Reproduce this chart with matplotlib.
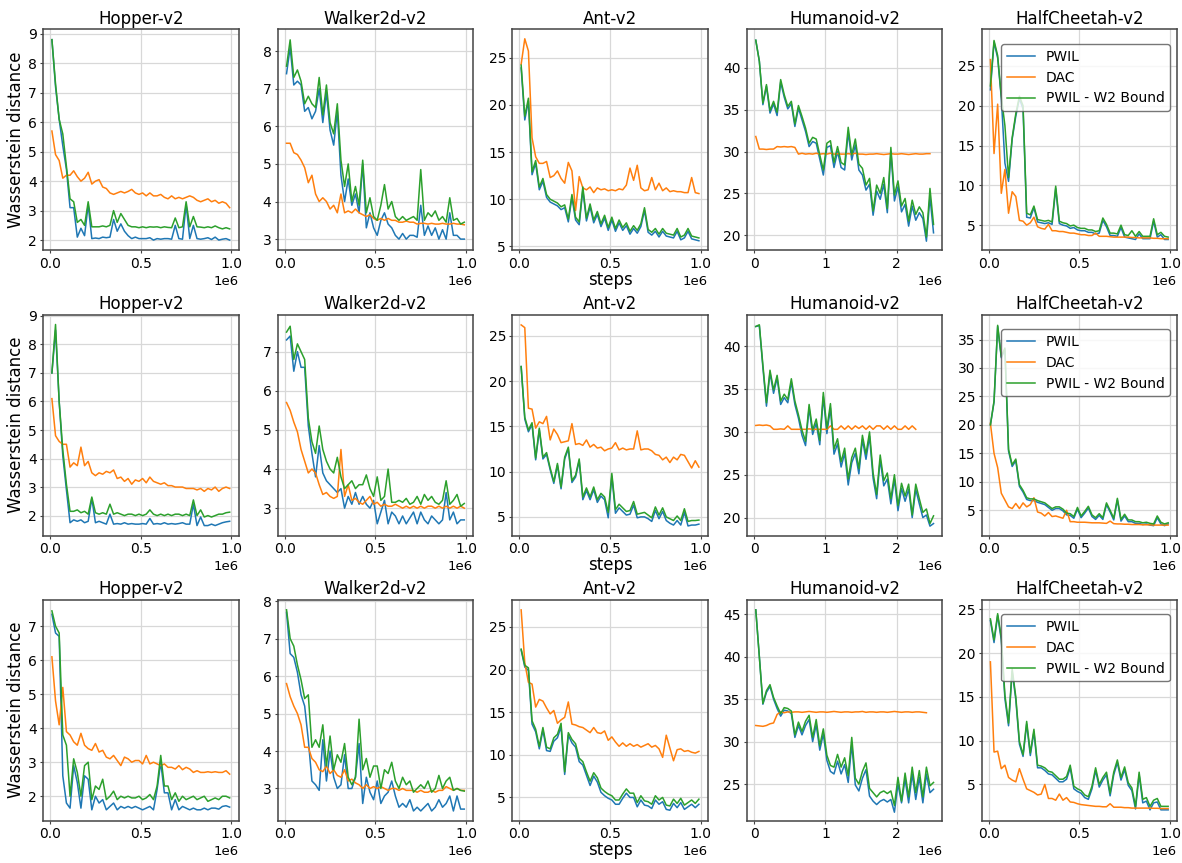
import numpy as np
import matplotlib
matplotlib.use("Agg")
import matplotlib.pyplot as plt

# x positions (training steps) of the logged evaluations
STEPS = 0.01e6 + 0.02e6 * np.arange(50)
HUM_STEPS = 0.02e6 + 0.05e6 * np.arange(51)

ENVS = ["Hopper-v2", "Walker2d-v2", "Ant-v2", "Humanoid-v2", "HalfCheetah-v2"]
LABELS = ["PWIL", "DAC", "PWIL - W2 Bound"]
COLORS = ["#1f77b4", "#ff7f0e", "#2ca02c"]

# ---- row 1 ----
HOPPER_1_PWIL = [8.8, 7.2, 6.1, 5.2, 4.4, 3.1, 3.1, 2.1, 2.4, 2.15, 3.2, 2.05, 2.07, 2.05, 2.1, 2.08, 2.1, 2.7, 2.3, 2.55,
                 2.3, 2.15, 2.05, 2.1, 2.05, 2.05, 2.05, 2.08, 2.0, 2.05, 2.03, 2.05, 2.05, 2.03, 2.5, 2.05, 2.03, 3.2, 2.05, 2.5,
                 2.05, 2.03, 2.05, 2.08, 2.02, 2.1, 2.0, 2.03, 2.05, 2.0]
HOPPER_1_DAC = [5.7, 4.9, 4.7, 4.1, 4.2, 4.2, 4.35, 4.15, 4.0, 4.1, 4.3, 3.9, 4.0, 4.05, 3.8, 3.75, 3.6, 3.55, 3.6, 3.65,
                3.6, 3.65, 3.72, 3.6, 3.55, 3.6, 3.5, 3.6, 3.5, 3.5, 3.55, 3.45, 3.4, 3.5, 3.4, 3.45, 3.4, 3.45, 3.5, 3.45,
                3.35, 3.3, 3.35, 3.4, 3.3, 3.35, 3.25, 3.3, 3.25, 3.1]
HOPPER_1_W2 = [8.8, 7.3, 6.1, 5.6, 4.5, 3.4, 3.3, 2.6, 2.7, 2.5, 3.3, 2.45, 2.45, 2.45, 2.48, 2.45, 2.5, 3.0, 2.6, 2.9,
               2.7, 2.5, 2.45, 2.45, 2.42, 2.45, 2.42, 2.45, 2.44, 2.45, 2.42, 2.45, 2.43, 2.42, 2.75, 2.42, 2.45, 3.3, 2.45, 2.8,
               2.45, 2.44, 2.42, 2.45, 2.42, 2.48, 2.42, 2.38, 2.42, 2.38]

WALKER_1_PWIL = [7.4, 8.1, 7.1, 7.2, 7.1, 6.4, 6.5, 6.2, 6.4, 7.0, 6.1, 6.9, 5.9, 5.5, 6.4, 4.7, 4.0, 4.6, 3.9, 4.2,
                 3.7, 5.0, 3.3, 3.7, 3.3, 3.1, 3.5, 3.7, 3.4, 3.3, 3.1, 3.0, 3.15, 3.0, 3.1, 3.1, 3.05, 3.9, 3.1, 3.35,
                 3.1, 3.3, 3.0, 3.25, 3.0, 3.7, 3.1, 3.1, 3.0, 3.0]
WALKER_1_DAC = [5.55, 5.55, 5.3, 5.25, 5.1, 4.9, 4.5, 4.7, 4.2, 4.0, 4.1, 4.0, 3.8, 3.9, 3.7, 4.2, 3.7, 3.75, 3.7, 3.8,
                3.7, 3.65, 3.6, 3.65, 3.55, 3.5, 3.55, 3.5, 3.55, 3.5, 3.5, 3.45, 3.45, 3.48, 3.45, 3.45, 3.4, 3.42, 3.42, 3.4,
                3.42, 3.4, 3.4, 3.42, 3.4, 3.4, 3.42, 3.4, 3.4, 3.38]
WALKER_1_W2 = [7.6, 8.3, 7.3, 7.5, 7.2, 6.6, 6.8, 6.6, 6.5, 7.3, 6.3, 7.1, 6.1, 5.8, 6.6, 5.1, 4.4, 5.0, 4.0, 4.4,
               3.9, 5.1, 3.7, 4.1, 3.6, 3.5, 3.9, 4.45, 3.8, 4.0, 3.6, 3.5, 3.6, 3.5, 3.55, 3.6, 3.5, 4.85, 3.5, 3.7,
               3.6, 3.75, 3.5, 3.6, 3.45, 4.1, 3.5, 3.55, 3.4, 3.45]

ANT_1_PWIL = [23.9, 18.4, 20.4, 12.6, 13.8, 11.0, 11.9, 10.2, 9.7, 9.5, 9.3, 8.9, 9.1, 7.6, 10.2, 7.8, 7.3, 11.0, 7.7, 9.2,
              7.5, 8.4, 7.1, 8.0, 6.7, 7.8, 6.6, 7.5, 6.7, 7.2, 6.3, 6.9, 6.4, 7.1, 8.8, 6.5, 6.2, 6.6, 6.0, 6.6,
              6.1, 6.0, 5.9, 6.6, 5.7, 5.9, 6.6, 5.8, 5.7, 5.6]
ANT_1_DAC = [24.3, 27.0, 25.7, 16.5, 14.5, 13.8, 13.8, 14.0, 12.3, 12.5, 13.0, 12.2, 11.7, 13.9, 13.0, 8.8, 12.4, 11.2, 11.0, 11.3,
             10.7, 11.2, 11.0, 11.1, 10.9, 11.0, 10.9, 11.1, 11.0, 11.5, 13.3, 12.0, 13.6, 11.2, 10.9, 11.0, 12.3, 11.0, 11.7, 10.9,
             11.2, 10.8, 10.9, 10.8, 10.8, 10.7, 10.7, 12.3, 10.7, 10.6]
ANT_1_W2 = [24.2, 18.8, 20.7, 12.9, 14.1, 11.3, 12.2, 10.5, 10.0, 9.8, 9.6, 9.2, 9.4, 7.9, 10.5, 8.1, 7.6, 11.3, 8.0, 9.5,
            7.8, 8.7, 7.4, 8.3, 7.0, 8.1, 6.9, 7.8, 7.0, 7.5, 6.6, 7.2, 6.7, 7.4, 9.1, 6.8, 6.5, 6.9, 6.3, 6.9,
            6.4, 6.3, 6.2, 6.9, 6.0, 6.2, 6.9, 6.1, 6.0, 5.9]

HUM_1_PWIL = [43.3, 40.8, 35.6, 37.8, 34.6, 35.7, 34.3, 38.3, 36.5, 35.1, 35.7, 33.0, 35.2, 33.8, 32.4, 30.6, 31.2, 31.0, 29.1, 27.2,
              30.5, 30.7, 28.1, 30.0, 28.1, 27.8, 32.3, 29.0, 30.8, 27.8, 27.2, 25.4, 26.1, 22.4, 25.3, 24.3, 26.1, 22.7, 30.0, 24.1,
              25.8, 22.8, 23.7, 21.1, 23.5, 21.8, 22.7, 22.0, 19.3, 24.6, 20.3]
HUM_1_DAC = [31.8, 30.3, 30.3, 30.25, 30.3, 30.3, 30.6, 30.55, 30.6, 30.55, 30.6, 30.5, 29.7, 29.8, 29.7, 29.75, 29.7, 29.8, 29.7, 29.75,
             29.7, 29.8, 29.7, 29.75, 29.7, 29.7, 29.75, 29.7, 29.8, 29.7, 29.7, 29.65, 29.7, 29.7, 29.75, 29.7, 29.65, 29.7, 29.75, 29.7,
             29.7, 29.75, 29.7, 29.65, 29.7, 29.75, 29.7, 29.7, 29.75, 29.75]
HUM_1_W2 = [43.3, 40.8, 35.8, 38.0, 34.9, 36.0, 34.7, 38.6, 36.8, 35.4, 36.0, 33.3, 35.5, 34.2, 32.8, 31.0, 31.7, 31.5, 29.6, 27.8,
            31.0, 31.3, 28.7, 30.6, 28.7, 28.4, 32.9, 29.6, 31.5, 28.5, 28.0, 26.0, 26.8, 22.9, 26.0, 25.0, 26.9, 23.2, 30.5, 24.8,
            26.5, 23.5, 24.4, 21.7, 24.2, 22.5, 23.4, 22.7, 19.8, 25.6, 21.3]

HC_1_PWIL = [22.0, 28.0, 26.0, 21.0, 12.8, 10.5, 15.8, 18.7, 20.9, 19.6, 6.0, 5.9, 7.2, 5.4, 5.3, 5.2, 5.3, 5.1, 9.6, 5.2,
             5.0, 4.9, 4.6, 4.7, 4.4, 4.3, 4.3, 4.1, 4.1, 3.9, 4.0, 5.6, 4.8, 3.7, 3.7, 3.6, 4.7, 3.5, 3.4, 3.3,
             3.2, 3.9, 3.3, 3.3, 3.3, 5.5, 3.5, 3.8, 3.2, 3.2]
HC_1_DAC = [25.8, 14.0, 20.2, 9.0, 12.0, 6.5, 9.2, 8.6, 5.6, 5.5, 5.0, 5.3, 6.0, 4.8, 4.6, 4.5, 5.1, 4.3, 4.3, 4.2,
            4.2, 4.1, 4.0, 4.0, 3.9, 3.8, 3.8, 3.7, 3.7, 4.0, 3.6, 3.6, 3.6, 3.55, 3.5, 3.5, 3.5, 3.5, 3.5, 3.45,
            3.45, 3.4, 3.4, 3.4, 3.4, 3.35, 3.35, 3.3, 3.3, 3.3]
HC_1_W2 = [22.5, 28.2, 26.3, 21.2, 17.5, 11.0, 16.0, 19.0, 21.2, 20.0, 6.5, 6.3, 7.4, 5.7, 5.6, 5.5, 5.6, 5.4, 9.9, 5.5,
           5.3, 5.2, 4.9, 5.0, 4.7, 4.6, 4.6, 4.4, 4.4, 4.2, 4.3, 5.9, 5.1, 4.0, 4.0, 3.9, 5.0, 3.8, 3.7, 4.3,
           3.6, 4.2, 3.6, 3.6, 3.6, 5.8, 3.8, 4.1, 3.6, 3.5]

# ---- row 2 ----
HOPPER_2_PWIL = [7.0, 8.5, 6.0, 4.1, 2.9, 1.75, 1.85, 1.8, 1.85, 1.75, 1.8, 2.6, 1.75, 1.8, 1.75, 1.7, 2.05, 1.7, 1.72, 1.7,
                 1.75, 1.7, 1.72, 1.7, 1.7, 1.72, 1.7, 1.9, 1.7, 1.72, 1.7, 1.75, 1.7, 1.72, 1.7, 1.72, 1.75, 1.7, 1.7, 2.4,
                 1.65, 1.95, 1.65, 1.65, 1.7, 1.65, 1.7, 1.75, 1.78, 1.8]
HOPPER_2_DAC = [6.1, 4.8, 4.6, 4.5, 4.5, 3.7, 3.85, 3.75, 4.4, 3.75, 3.9, 3.5, 3.4, 3.5, 3.45, 3.55, 3.5, 3.6, 3.3, 3.35,
                3.2, 3.3, 3.1, 3.25, 3.2, 3.3, 3.15, 3.35, 3.2, 3.15, 3.1, 3.15, 3.05, 3.05, 3.0, 3.0, 3.0, 2.95, 2.95, 2.95,
                2.9, 2.95, 2.85, 2.95, 2.9, 3.0, 2.85, 2.95, 3.0, 2.95]
HOPPER_2_W2 = [7.0, 8.7, 6.0, 4.3, 3.1, 2.15, 2.15, 2.2, 2.1, 2.15, 2.05, 2.65, 2.1, 2.05, 2.1, 2.05, 2.4, 2.05, 2.1, 2.05,
               2.0, 2.05, 2.05, 2.0, 2.05, 2.0, 2.05, 2.2, 2.05, 2.0, 2.05, 2.0, 2.05, 2.0, 2.05, 2.05, 2.0, 2.05, 2.0, 2.55,
               2.0, 2.2, 1.95, 2.0, 1.95, 2.0, 2.05, 2.05, 2.1, 2.12]

WALKER_2_PWIL = [7.3, 7.4, 6.5, 7.0, 6.6, 6.6, 5.1, 4.4, 3.8, 4.6, 3.9, 3.7, 3.6, 3.5, 3.4, 3.5, 3.0, 3.3, 3.1, 3.4,
                 3.1, 3.3, 3.1, 3.0, 3.2, 2.6, 2.9, 3.2, 2.6, 2.9, 2.8, 2.6, 2.8, 2.6, 2.75, 2.9, 2.6, 2.9, 2.7, 2.6,
                 2.8, 2.7, 2.6, 2.7, 3.4, 2.7, 2.9, 2.6, 2.7, 2.7]
WALKER_2_DAC = [5.7, 5.5, 5.2, 4.95, 4.5, 4.2, 3.9, 4.0, 3.9, 3.6, 3.35, 3.4, 3.3, 3.25, 3.3, 4.5, 3.3, 3.6, 3.2, 3.25,
                3.15, 3.1, 3.2, 3.3, 3.1, 3.15, 3.05, 3.1, 3.05, 3.05, 3.1, 3.05, 3.0, 3.05, 3.0, 3.05, 3.0, 3.05, 3.0, 3.05,
                3.05, 3.0, 3.05, 3.0, 3.05, 3.0, 3.05, 3.0, 3.05, 3.0]
WALKER_2_W2 = [7.5, 7.65, 6.8, 7.2, 7.0, 6.8, 5.3, 4.7, 4.4, 5.1, 4.5, 4.2, 4.0, 3.9, 4.3, 3.8, 3.5, 3.6, 3.7, 3.5,
               3.6, 3.6, 3.85, 3.5, 3.3, 3.8, 3.2, 3.3, 4.0, 3.15, 3.15, 3.2, 3.15, 3.25, 3.1, 3.15, 3.3, 3.1, 3.35, 3.2,
               3.3, 3.15, 3.1, 3.2, 3.7, 3.1, 3.2, 3.35, 3.05, 3.12]

ANT_2_PWIL = [21.6, 15.8, 14.4, 15.2, 11.3, 14.6, 11.4, 11.9, 10.2, 8.7, 10.7, 8.1, 11.4, 12.5, 8.8, 9.4, 11.2, 6.9, 7.9, 6.9,
              8.0, 6.6, 7.3, 6.9, 4.9, 9.5, 5.4, 6.0, 5.6, 5.2, 5.3, 6.3, 4.9, 5.0, 5.0, 4.8, 4.5, 5.7, 4.8, 5.6,
              4.6, 4.3, 4.1, 4.6, 4.1, 5.5, 4.0, 4.1, 4.1, 4.2]
ANT_2_DAC = [26.2, 25.9, 17.0, 16.9, 14.8, 15.5, 15.3, 16.1, 13.5, 14.7, 14.1, 13.2, 13.3, 13.4, 15.3, 13.0, 13.1, 12.9, 13.5, 12.7,
             13.0, 12.6, 12.7, 12.3, 12.5, 12.6, 13.2, 12.4, 12.6, 12.4, 12.5, 12.5, 14.5, 12.4, 12.5, 12.5, 12.3, 11.9, 11.8, 11.3,
             11.6, 11.0, 11.6, 11.3, 11.9, 11.8, 11.1, 10.4, 11.2, 10.5]
ANT_2_W2 = [21.6, 16.0, 14.6, 15.4, 11.5, 14.8, 11.6, 12.1, 10.4, 8.9, 10.9, 8.3, 11.6, 12.7, 9.0, 9.6, 11.4, 7.2, 8.2, 7.2,
            8.3, 6.9, 7.6, 7.2, 5.5, 9.8, 5.8, 6.4, 6.0, 5.6, 5.7, 6.7, 5.3, 5.4, 5.5, 5.2, 4.9, 6.1, 5.2, 6.0,
            5.0, 4.8, 4.6, 5.1, 4.6, 5.9, 4.5, 4.6, 4.6, 4.65]

HUM_2_PWIL = [42.3, 42.4, 37.5, 33.0, 36.9, 34.5, 36.3, 33.2, 34.0, 33.4, 35.8, 33.2, 31.6, 29.6, 28.4, 32.8, 29.7, 31.0, 28.5, 34.1,
              29.8, 32.8, 27.4, 28.6, 25.9, 27.5, 23.8, 26.4, 27.5, 25.1, 29.1, 26.8, 29.5, 24.6, 22.2, 26.8, 23.7, 24.5, 21.6, 24.5,
              20.8, 23.4, 21.9, 23.3, 20.0, 23.3, 21.6, 20.0, 20.3, 19.0, 19.3]
HUM_2_DAC = [30.75, 30.8, 30.75, 30.8, 30.7, 30.3, 30.3, 30.35, 30.3, 30.7, 30.3, 30.3, 30.3, 30.3, 30.3, 30.35, 30.3, 30.3, 30.3, 30.3,
             30.3, 30.7, 30.3, 30.3, 30.7, 30.3, 30.7, 30.3, 30.7, 30.4, 30.7, 30.3, 30.7, 30.3, 30.7, 30.7, 30.3, 30.7, 30.3, 30.7,
             30.3, 30.3, 30.7, 30.3, 30.7, 30.3]
HUM_2_W2 = [42.3, 42.5, 37.8, 33.4, 37.2, 34.9, 36.6, 33.6, 34.4, 33.8, 36.2, 33.6, 32.0, 30.2, 28.9, 33.2, 30.2, 31.5, 29.0, 34.6,
            30.4, 33.3, 28.0, 29.2, 26.5, 28.1, 24.5, 27.0, 28.1, 25.7, 29.6, 27.4, 30.0, 25.2, 22.7, 27.3, 24.3, 25.2, 22.2, 25.0,
            21.4, 24.0, 22.5, 23.9, 20.3, 23.9, 22.2, 20.6, 21.0, 19.3, 20.2]

HC_2_PWIL = [20.0, 24.0, 37.3, 31.8, 33.2, 15.4, 12.7, 13.7, 9.2, 8.2, 6.9, 6.7, 6.7, 6.4, 6.2, 6.0, 5.5, 5.0, 5.3, 5.3,
             4.9, 4.2, 4.1, 3.6, 5.2, 3.7, 4.5, 5.4, 3.9, 3.4, 4.1, 3.4, 6.0, 4.7, 3.3, 6.8, 3.1, 4.0, 3.0, 3.0,
             2.7, 2.7, 2.5, 2.6, 2.4, 2.3, 3.7, 2.6, 2.3, 2.6]
HC_2_DAC = [20.3, 15.0, 12.5, 8.0, 6.8, 5.6, 5.3, 6.2, 5.3, 6.3, 5.6, 6.0, 7.2, 4.7, 4.5, 4.0, 4.6, 3.9, 4.0, 3.8,
            3.6, 5.0, 3.0, 3.0, 2.9, 2.9, 2.9, 2.85, 2.8, 2.8, 2.8, 2.75, 2.7, 3.1, 2.65, 2.6, 2.6, 2.55, 2.55, 2.5,
            2.5, 2.5, 2.45, 2.45, 2.45, 2.4, 2.4, 2.4, 2.4, 2.4]
HC_2_W2 = [20.0, 24.2, 37.5, 32.0, 33.5, 15.7, 13.0, 14.0, 9.5, 8.5, 7.2, 7.0, 7.0, 6.7, 6.5, 6.3, 5.8, 5.3, 5.6, 5.6,
           5.2, 4.5, 4.4, 3.9, 5.5, 4.0, 4.8, 5.7, 4.2, 3.7, 4.4, 3.7, 6.3, 5.0, 3.6, 7.1, 3.4, 4.3, 3.3, 3.3,
           3.0, 3.0, 2.8, 2.9, 2.7, 2.6, 4.0, 2.9, 2.6, 2.8]

# ---- row 3 ----
HOPPER_3_PWIL = [7.35, 6.8, 6.7, 2.6, 1.8, 1.65, 2.9, 2.4, 1.65, 2.6, 2.5, 1.6, 2.0, 1.8, 1.9, 1.6, 1.7, 1.8, 1.6, 1.7,
                 1.65, 1.7, 1.65, 1.7, 1.65, 1.6, 1.65, 1.7, 1.6, 2.2, 3.0, 2.1, 2.1, 1.6, 1.9, 1.6, 1.7, 1.65, 1.6, 1.65,
                 1.6, 1.6, 1.65, 1.6, 1.65, 1.65, 1.62, 1.7, 1.72, 1.68]
HOPPER_3_DAC = [6.1, 4.8, 4.1, 5.2, 3.9, 3.8, 3.6, 3.5, 3.85, 3.5, 3.4, 3.35, 3.55, 3.3, 3.35, 3.15, 3.1, 3.2, 3.05, 2.9,
                3.15, 3.1, 3.0, 3.05, 3.05, 2.95, 3.2, 2.95, 3.0, 2.95, 2.9, 2.95, 2.85, 2.85, 2.8, 2.9, 2.78, 2.85, 2.8, 2.7,
                2.75, 2.7, 2.7, 2.72, 2.7, 2.72, 2.7, 2.7, 2.75, 2.65]
HOPPER_3_W2 = [7.45, 7.0, 6.8, 3.8, 3.5, 2.0, 3.1, 2.7, 2.0, 2.9, 3.0, 1.9, 2.3, 2.2, 2.5, 1.9, 2.0, 2.15, 1.9, 2.0,
               1.95, 2.0, 1.95, 1.95, 2.0, 1.9, 1.95, 2.05, 1.9, 2.3, 3.2, 2.3, 2.3, 1.9, 2.1, 1.85, 2.0, 1.9, 1.95, 2.0,
               1.9, 1.95, 2.0, 1.85, 1.9, 1.95, 1.9, 2.0, 2.0, 1.95]

WALKER_3_PWIL = [7.7, 6.6, 6.5, 6.1, 5.5, 5.2, 4.3, 3.2, 3.1, 2.95, 4.3, 3.2, 4.0, 3.3, 3.0, 3.1, 3.9, 3.0, 3.0, 3.3,
                 4.2, 2.6, 3.3, 2.9, 2.7, 3.2, 2.6, 2.8, 2.9, 3.2, 2.8, 2.5, 2.6, 2.5, 2.7, 2.4, 2.5, 2.4, 2.5, 2.6,
                 2.4, 2.5, 2.7, 2.5, 2.6, 2.8, 2.4, 2.8, 2.45, 2.45]
WALKER_3_DAC = [5.8, 5.45, 5.2, 5.0, 4.7, 4.1, 4.1, 3.8, 3.7, 3.5, 3.45, 3.6, 3.4, 3.5, 3.35, 3.3, 3.5, 3.2, 3.25, 3.15,
                3.1, 3.0, 3.1, 3.0, 3.05, 3.0, 3.05, 3.0, 2.95, 3.0, 3.0, 2.95, 3.0, 2.95, 2.95, 2.95, 2.9, 2.95, 2.9, 2.9,
                2.95, 2.9, 2.95, 2.95, 3.05, 3.0, 2.95, 3.0, 2.95, 2.95]
WALKER_3_W2 = [7.77, 7.0, 6.8, 6.3, 5.9, 5.4, 5.5, 4.1, 4.3, 4.1, 4.7, 3.6, 4.4, 3.5, 3.9, 3.7, 4.2, 3.3, 3.1, 3.3,
               4.85, 3.5, 3.8, 3.3, 3.6, 3.6, 3.0, 3.5, 3.4, 3.7, 3.2, 3.0, 3.3, 3.1, 3.2, 2.9, 3.0, 3.1, 3.0, 3.2,
               2.9, 3.0, 3.35, 3.0, 3.2, 3.3, 2.95, 3.0, 2.95, 2.93]

ANT_3_PWIL = [22.3, 20.3, 19.9, 13.6, 12.7, 10.7, 12.9, 10.5, 10.4, 11.6, 12.0, 13.3, 7.7, 12.3, 11.4, 10.9, 9.2, 8.8, 7.6, 6.4,
              7.5, 6.8, 5.6, 5.2, 4.9, 4.7, 4.2, 4.2, 4.9, 5.5, 5.0, 5.0, 3.9, 4.7, 4.1, 4.0, 3.7, 4.7, 4.2, 4.5,
              3.6, 3.5, 4.3, 3.8, 4.4, 3.6, 3.9, 4.2, 3.8, 4.2]
ANT_3_DAC = [27.0, 20.8, 18.5, 18.3, 15.6, 16.5, 16.3, 15.5, 14.8, 15.2, 13.7, 14.1, 14.4, 16.2, 13.6, 13.5, 13.3, 13.2, 12.9, 12.6,
             13.2, 12.6, 12.5, 12.8, 11.7, 12.1, 11.5, 11.0, 11.4, 11.0, 11.3, 11.0, 11.2, 10.9, 11.1, 11.3, 10.9, 11.1, 10.7, 9.7,
             12.3, 10.8, 9.3, 10.6, 10.7, 10.4, 10.5, 10.3, 10.2, 10.4]
ANT_3_W2 = [22.4, 20.5, 20.2, 14.0, 13.0, 11.0, 13.2, 10.9, 10.7, 12.0, 12.4, 13.7, 8.0, 12.6, 11.8, 11.3, 9.6, 9.2, 8.0, 6.9,
            7.9, 7.3, 6.1, 5.7, 5.4, 5.2, 4.7, 4.7, 5.4, 6.0, 5.5, 5.5, 4.4, 5.2, 4.6, 4.5, 4.2, 5.2, 4.7, 5.0,
            4.1, 4.0, 4.8, 4.3, 4.9, 4.1, 4.4, 4.7, 4.3, 4.8]

HUM_3_PWIL = [45.5, 40.0, 34.4, 35.8, 36.5, 35.0, 33.9, 33.0, 33.7, 33.6, 33.3, 30.5, 31.9, 30.8, 31.9, 32.6, 30.0, 32.0, 29.0, 30.9,
              27.8, 26.5, 26.2, 27.7, 26.2, 27.3, 25.2, 29.7, 24.9, 24.2, 25.7, 26.7, 23.6, 23.0, 22.6, 23.0, 23.2, 22.9, 23.2, 21.7,
              25.0, 22.8, 25.6, 22.8, 26.2, 23.2, 25.8, 22.8, 26.2, 24.0, 24.4]
HUM_3_DAC = [31.9, 31.85, 31.8, 31.9, 32.1, 32.2, 33.2, 33.5, 33.4, 33.5, 33.45, 33.5, 33.5, 33.45, 33.5, 33.55, 33.5, 33.45, 33.5, 33.5,
             33.45, 33.5, 33.55, 33.5, 33.45, 33.5, 33.5, 33.45, 33.5, 33.5, 33.55, 33.45, 33.5, 33.5, 33.45, 33.5, 33.5, 33.45, 33.5, 33.55,
             33.5, 33.45, 33.5, 33.5, 33.45, 33.5, 33.5, 33.45, 33.4]
HUM_3_W2 = [45.5, 40.0, 34.5, 36.0, 36.7, 35.2, 34.2, 33.3, 34.0, 33.9, 33.6, 30.8, 32.3, 31.2, 32.4, 33.1, 30.5, 32.6, 29.5, 31.5,
            28.4, 27.2, 27.0, 28.5, 27.0, 28.1, 26.0, 30.5, 25.7, 25.0, 26.5, 27.5, 24.5, 24.0, 23.5, 24.0, 24.2, 23.9, 24.2, 22.5,
            25.8, 23.0, 26.3, 23.5, 27.0, 24.0, 26.6, 23.5, 27.0, 24.8, 25.2]

HC_3_PWIL = [23.7, 21.2, 24.3, 21.5, 14.8, 11.7, 17.9, 14.7, 9.6, 8.2, 11.9, 8.3, 11.0, 6.9, 6.9, 6.6, 6.2, 6.1, 5.7, 5.3,
             5.3, 5.6, 6.9, 4.5, 4.2, 4.0, 3.5, 3.3, 4.5, 6.6, 4.7, 5.5, 6.1, 3.7, 6.1, 7.5, 5.5, 6.7, 4.9, 4.3,
             2.2, 6.1, 2.9, 3.1, 2.1, 2.9, 3.0, 2.1, 2.1, 2.1]
HC_3_DAC = [19.0, 8.7, 8.8, 6.8, 7.2, 5.8, 5.5, 5.3, 6.8, 5.6, 4.5, 4.3, 4.1, 3.8, 3.9, 5.0, 3.4, 3.4, 3.2, 3.9,
            3.2, 3.5, 3.0, 2.95, 2.8, 2.7, 2.65, 2.6, 2.55, 2.5, 2.5, 2.45, 2.45, 2.8, 2.4, 2.4, 2.4, 2.35, 2.35, 2.3,
            2.3, 2.3, 2.3, 2.3, 2.3, 2.28, 2.28, 2.25, 2.25, 2.25]
HC_3_W2 = [23.9, 21.5, 24.5, 21.8, 15.2, 12.0, 18.2, 15.0, 9.9, 8.4, 12.2, 8.6, 11.3, 7.2, 7.1, 6.9, 6.5, 6.4, 6.0, 5.6,
           5.6, 5.9, 7.2, 4.8, 4.5, 4.3, 3.8, 3.6, 4.8, 6.9, 5.0, 5.8, 6.4, 4.0, 6.4, 7.8, 5.8, 7.0, 5.2, 4.6,
           2.5, 6.4, 3.3, 3.5, 2.5, 3.2, 3.4, 2.5, 2.5, 2.5]

PANELS = [
    [(HOPPER_1_PWIL, HOPPER_1_DAC, HOPPER_1_W2), (WALKER_1_PWIL, WALKER_1_DAC, WALKER_1_W2),
     (ANT_1_PWIL, ANT_1_DAC, ANT_1_W2), (HUM_1_PWIL, HUM_1_DAC, HUM_1_W2), (HC_1_PWIL, HC_1_DAC, HC_1_W2)],
    [(HOPPER_2_PWIL, HOPPER_2_DAC, HOPPER_2_W2), (WALKER_2_PWIL, WALKER_2_DAC, WALKER_2_W2),
     (ANT_2_PWIL, ANT_2_DAC, ANT_2_W2), (HUM_2_PWIL, HUM_2_DAC, HUM_2_W2), (HC_2_PWIL, HC_2_DAC, HC_2_W2)],
    [(HOPPER_3_PWIL, HOPPER_3_DAC, HOPPER_3_W2), (WALKER_3_PWIL, WALKER_3_DAC, WALKER_3_W2),
     (ANT_3_PWIL, ANT_3_DAC, ANT_3_W2), (HUM_3_PWIL, HUM_3_DAC, HUM_3_W2), (HC_3_PWIL, HC_3_DAC, HC_3_W2)],
]

YTICKS = [
    [range(2, 10), range(3, 9), [5, 10, 15, 20, 25], [20, 25, 30, 35, 40], [5, 10, 15, 20, 25]],
    [range(2, 10), range(3, 8), [5, 10, 15, 20, 25], [20, 25, 30, 35, 40], [5, 10, 15, 20, 25, 30, 35]],
    [range(2, 8), range(3, 9), [5, 10, 15, 20, 25], [25, 30, 35, 40, 45], [5, 10, 15, 20, 25]],
]
YLIMS = [
    [(1.65, 9.15), (2.70, 8.58), (4.58, 28.0), (18.2, 44.6), (1.83, 29.6)],
    [(1.30, 9.05), (2.30, 7.95), (2.94, 27.35), (17.9, 43.7), (0.56, 39.4)],
    [(1.28, 7.78), (2.14, 8.04), (2.27, 28.2), (20.7, 46.7), (0.86, 26.1)],
]

fig, axes = plt.subplots(3, 5, figsize=(11.82, 8.63), dpi=100)
fig.subplots_adjust(left=0.0364, right=0.9958, top=0.966, bottom=0.049, wspace=0.2, hspace=0.29)

for r in range(3):
    for c in range(5):
        ax = axes[r, c]
        x = HUM_STEPS if c == 3 else STEPS
        for y, col, lab in zip(PANELS[r][c], COLORS, LABELS):
            ax.plot(x[:len(y)], y, color=col, lw=1.1, label=lab)
        ax.set_title(ENVS[c], fontsize=12, pad=4)
        if c == 3:
            ax.set_xticks([0, 1e6, 2e6])
        else:
            ax.set_xticks([0, 0.5e6, 1e6])
        ax.set_yticks(list(YTICKS[r][c]))
        ax.set_ylim(*YLIMS[r][c])
        ax.grid(True, color="#d8d8d8", lw=0.9)
        ax.set_axisbelow(True)
        ax.tick_params(labelsize=10, color="#444444", length=2.5, pad=2)
        ax.xaxis.get_offset_text().set_fontsize(9.5)
        for s in ax.spines.values():
            s.set_color("#444444")
            s.set_linewidth(1.1)
        if c == 0:
            ax.set_ylabel("Wasserstein distance", fontsize=12, labelpad=2)
        if c == 2:
            ax.set_xlabel("steps", fontsize=12, labelpad=0)
        if c == 4:
            ax.legend(loc="upper right", bbox_to_anchor=(1.0, 0.965), fontsize=10,
                      edgecolor="#555555", framealpha=0.8)

plt.savefig("out.png", dpi=100)
